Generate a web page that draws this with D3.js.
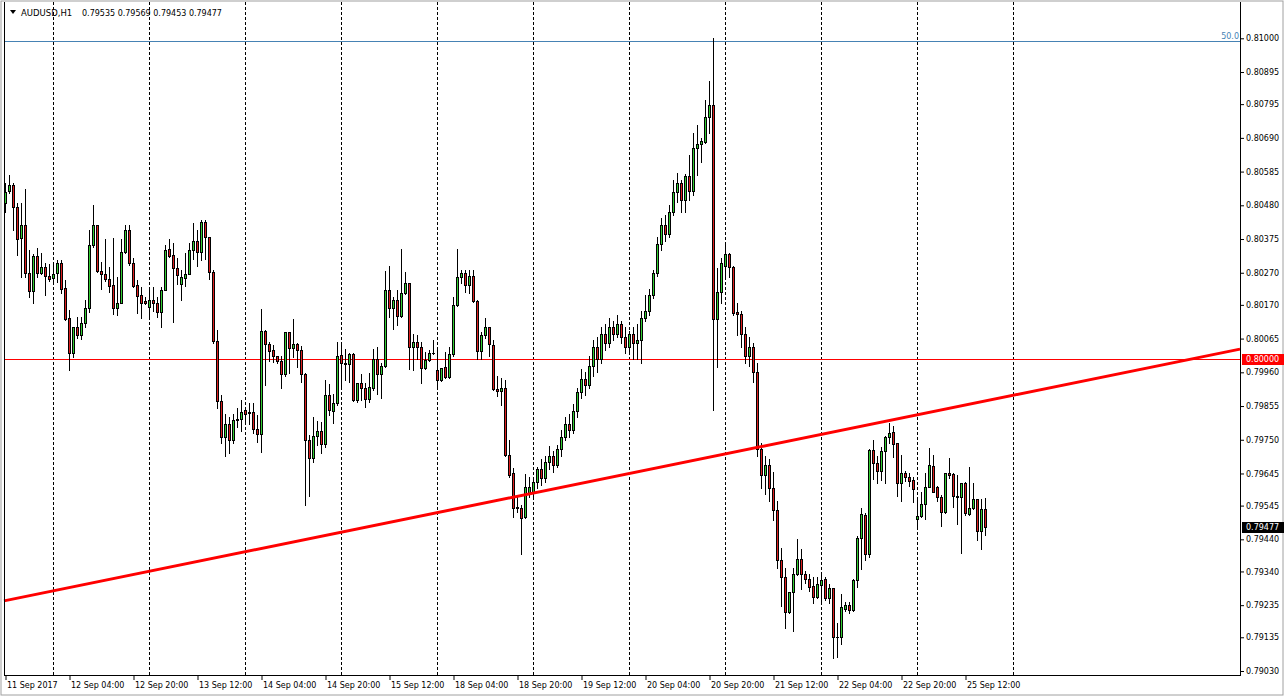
<!DOCTYPE html>
<html><head><meta charset="utf-8">
<script src="https://cdn.jsdelivr.net/npm/d3@7"></script>
<style>html,body{margin:0;padding:0;background:#fff;overflow:hidden}svg{display:block;font-family:"DejaVu Sans",sans-serif}</style>
</head><body><svg id="c" width="1285" height="698"></svg>
<script>
const symbolLabel = "AUDUSD,H1";
const lastBarText = "0.79535 0.79569 0.79453 0.79477";

const open = [
.80488,.80526,.80543,.80474,.80377,.80419,.80270,.80214,.80322,.80270,
.80287,.80259,.80255,.80270,.80299,.80221,.80128,.80021,.80100,.80075,
.80113,.80159,.80356,.80419,.80276,.80265,.80252,.80232,.80159,.80175,
.80336,.80403,.80299,.80232,.80201,.80183,.80162,.80185,.80177,.80149,
.80216,.80343,.80325,.80284,.80235,.80255,.80267,.80341,.80369,.80336,
.80429,.80382,.80273,.80056,.79870,.79760,.79800,.79750,.79810,.79816,
.79842,.79836,.79835,.79785,.79767,.80088,.80047,.80029,.80012,.79996,
.79954,.80084,.80037,.80048,.80031,.79954,.79749,.79692,.79761,.79777,
.79737,.79889,.79840,.79863,.80014,.79988,.79985,.80016,.79874,.79926,
.79910,.79876,.79910,.80003,.79955,.79979,.80216,.80159,.80185,.80135,
.80206,.80237,.80038,.80053,.80038,.79972,.79998,.80019,.79967,.79936,
.79977,.79944,.80016,.80169,.80256,.80270,.80232,.80260,.80182,.80026,
.80075,.80100,.80045,.79907,.79903,.79910,.79702,.79645,.79536,.79536,
.79508,.79585,.79585,.79620,.79660,.79630,.79680,.79700,.79670,.79720,
.79760,.79800,.79780,.79840,.79900,.79940,.79920,.79980,.80040,.80000,
.80080,.80050,.80100,.80080,.80110,.80070,.80040,.80080,.80050,.80060,
.80130,.80150,.80200,.80270,.80360,.80420,.80390,.80460,.80520,.80551,
.80495,.80571,.80523,.80657,.80670,.80678,.80756,.80791,.80125,.80211,
.80291,.80327,.80289,.80148,.80142,.80080,.80010,.80040,.79960,.79720,
.79640,.79670,.79600,.79530,.79376,.79322,.79215,.79276,.79332,.79379,
.79332,.79318,.79295,.79259,.79299,.79315,.79256,.79287,.79137,.79135,
.79222,.79235,.79220,.79313,.79443,.79516,.79393,.79718,.79679,.79654,
.79715,.79758,.79773,.79739,.79614,.79645,.79633,.79625,.79502,.79514,
.79550,.79604,.79668,.79602,.79571,.79526,.79645,.79642,.79575,.79573,
.79614,.79518,.79537,.79566,.79467,.79535];

const high = [
.80550,.80574,.80550,.80486,.80486,.80530,.80341,.80327,.80346,.80330,
.80299,.80297,.80297,.80310,.80310,.80247,.80154,.80100,.80133,.80133,
.80185,.80403,.80481,.80419,.80304,.80374,.80289,.80377,.80257,.80374,
.80419,.80419,.80315,.80247,.80227,.80193,.80218,.80225,.80196,.80225,
.80356,.80374,.80362,.80315,.80279,.80333,.80362,.80426,.80403,.80434,
.80434,.80382,.80279,.80092,.79890,.79830,.79820,.79830,.79850,.79874,
.79853,.79865,.79865,.79827,.80156,.80092,.80055,.80045,.80012,.80011,
.80084,.80084,.80125,.80052,.80042,.79957,.79765,.79822,.79808,.79806,
.79936,.79923,.79894,.80055,.80055,.80034,.80021,.80021,.79928,.79955,
.79926,.79957,.80034,.80038,.79988,.80276,.80291,.80195,.80216,.80343,
.80273,.80237,.80080,.80075,.80053,.80024,.80029,.80060,.80034,.79972,
.80024,.80040,.80195,.80343,.80278,.80278,.80280,.80280,.80185,.80086,
.80128,.80102,.80060,.79947,.79941,.79936,.79749,.79661,.79573,.79547,
.79643,.79635,.79630,.79665,.79690,.79700,.79730,.79715,.79735,.79780,
.79820,.79830,.79860,.79910,.79970,.79960,.80010,.80060,.80070,.80100,
.80110,.80130,.80120,.80140,.80120,.80100,.80090,.80100,.80110,.80150,
.80200,.80220,.80280,.80380,.80440,.80450,.80480,.80560,.80580,.80559,
.80578,.80637,.80704,.80730,.80689,.80808,.80867,.81000,.80284,.80315,
.80360,.80331,.80291,.80175,.80150,.80100,.80070,.80050,.79990,.79740,
.79700,.79690,.79650,.79560,.79412,.79350,.79276,.79350,.79440,.79409,
.79342,.79332,.79324,.79324,.79336,.79322,.79301,.79287,.79180,.79270,
.79246,.79246,.79315,.79450,.79539,.79523,.79720,.79749,.79699,.79728,
.79762,.79803,.79793,.79739,.79703,.79654,.79645,.79633,.79562,.79588,
.79645,.79723,.79703,.79606,.79578,.79648,.79692,.79645,.79640,.79616,
.79617,.79664,.79614,.79566,.79564,.79569];

const low = [
.80460,.80517,.80403,.80325,.80257,.80257,.80196,.80175,.80257,.80267,
.80201,.80245,.80239,.80242,.80208,.80123,.79967,.80007,.80066,.80063,
.80102,.80149,.80349,.80273,.80218,.80245,.80211,.80142,.80139,.80175,
.80333,.80294,.80227,.80144,.80128,.80173,.80133,.80152,.80133,.80102,
.80216,.80320,.80118,.80235,.80185,.80229,.80265,.80312,.80291,.80310,
.80312,.80252,.80052,.79850,.79740,.79700,.79710,.79740,.79790,.79778,
.79799,.79799,.79770,.79744,.79713,.79920,.79996,.79993,.79988,.79910,
.79948,.79957,.80009,.79977,.79931,.79547,.79576,.79682,.79733,.79710,
.79726,.79827,.79803,.79858,.79917,.79936,.79931,.79870,.79869,.79874,
.79853,.79869,.79905,.79894,.79879,.79977,.80133,.80094,.80107,.80131,
.80204,.79969,.79967,.80003,.79926,.79969,.79996,.80017,.79915,.79933,
.79941,.79941,.80011,.80166,.80237,.80211,.80206,.80180,.80003,.80003,
.80068,.80011,.79905,.79886,.79858,.79699,.79635,.79510,.79526,.79395,
.79505,.79573,.79575,.79600,.79610,.79620,.79660,.79650,.79665,.79700,
.79750,.79760,.79770,.79820,.79880,.79890,.79910,.79950,.79960,.79990,
.80030,.80040,.80060,.80070,.80050,.80020,.80020,.80000,.80000,.79990,
.80120,.80140,.80190,.80260,.80340,.80370,.80380,.80450,.80490,.80460,
.80460,.80497,.80512,.80574,.80616,.80675,.80704,.79843,.79978,.80177,
.80258,.80256,.80139,.80076,.80040,.79990,.79980,.79930,.79700,.79600,
.79580,.79560,.79500,.79350,.79232,.79163,.79210,.79156,.79329,.79284,
.79305,.79280,.79241,.79256,.79243,.79251,.79243,.79069,.79073,.79114,
.79218,.79210,.79218,.79293,.79347,.79376,.79384,.79627,.79616,.79625,
.79616,.79739,.79695,.79575,.79560,.79623,.79606,.79557,.79474,.79508,
.79502,.79602,.79588,.79560,.79481,.79523,.79630,.79542,.79488,.79398,
.79516,.79516,.79533,.79438,.79410,.79453];

const close = [
.80522,.80543,.80474,.80374,.80419,.80270,.80214,.80322,.80270,.80287,
.80259,.80252,.80267,.80299,.80218,.80125,.80021,.80100,.80075,.80113,
.80159,.80356,.80419,.80276,.80265,.80252,.80230,.80159,.80175,.80334,
.80403,.80299,.80229,.80198,.80177,.80177,.80185,.80177,.80149,.80216,
.80341,.80323,.80284,.80262,.80257,.80267,.80341,.80369,.80336,.80429,
.80382,.80273,.80056,.79870,.79760,.79800,.79750,.79810,.79816,.79837,
.79829,.79832,.79785,.79767,.80088,.80047,.80027,.80012,.79996,.79954,
.80084,.80037,.80047,.80031,.79954,.79749,.79692,.79761,.79777,.79737,
.79889,.79844,.79863,.80011,.79988,.79985,.80016,.79874,.79926,.79910,
.79876,.79915,.80003,.79955,.79979,.80216,.80159,.80185,.80135,.80206,
.80237,.80038,.80053,.80038,.79972,.79998,.80019,.80021,.79936,.79972,
.79944,.80016,.80169,.80256,.80270,.80232,.80260,.80182,.80026,.80075,
.80100,.80048,.79907,.79903,.79910,.79702,.79640,.79536,.79541,.79505,
.79604,.79604,.79620,.79660,.79630,.79680,.79700,.79670,.79720,.79760,
.79800,.79780,.79840,.79900,.79940,.79920,.79980,.80040,.80000,.80080,
.80050,.80100,.80080,.80110,.80070,.80040,.80080,.80050,.80060,.80130,
.80150,.80200,.80270,.80360,.80420,.80390,.80460,.80520,.80550,.80495,
.80571,.80523,.80657,.80670,.80680,.80756,.80791,.80125,.80211,.80299,
.80327,.80289,.80146,.80142,.80080,.80010,.80040,.79960,.79720,.79640,
.79670,.79600,.79530,.79376,.79322,.79215,.79276,.79332,.79379,.79331,
.79317,.79293,.79259,.79301,.79313,.79256,.79287,.79135,.79135,.79228,
.79235,.79220,.79313,.79443,.79518,.79393,.79718,.79677,.79654,.79715,
.79758,.79770,.79737,.79614,.79645,.79633,.79623,.79596,.79513,.79550,
.79604,.79671,.79588,.79571,.79526,.79645,.79641,.79576,.79573,.79614,
.79521,.79537,.79566,.79467,.79533,.79477];

const priceTicks = [0.81000,0.80895,0.80795,0.80690,0.80585,0.80480,0.80375,0.80270,0.80170,0.80065,
  0.79960,0.79855,0.79750,0.79645,0.79545,0.79440,0.79340,0.79235,0.79135,0.79030];
const timeTickIndex = [0,16,32,48,64,80,96,112,128,144,160,176,192,208,224,240];
const timeTickLabels = ["11 Sep 2017","12 Sep 04:00","12 Sep 20:00","13 Sep 12:00","14 Sep 04:00",
  "14 Sep 20:00","15 Sep 12:00","18 Sep 04:00","18 Sep 20:00","19 Sep 12:00","20 Sep 04:00",
  "20 Sep 20:00","21 Sep 12:00","22 Sep 04:00","22 Sep 20:00","25 Sep 12:00"];
const daySeparatorIndex = [12,36,60,84,108,132,156,180,204,228,252];
const trendAnchors = [{i:0, p:0.79249},{i:300, p:0.80010}];
const horizontalLevel = 0.80000;
const fibLevel = {label:"50.0", price:0.80992};
const currentPrice = 0.79477;

// layout
const W = 1285, H = 698;
const L = 4, R = 1240, T = 2, B = 675;
const svg = d3.select("#c");
svg.append("rect").attr("width",W).attr("height",H).attr("fill","#fff");

const x = d3.scaleLinear().domain([0, 308.75]).range([5, 1240]);
const y = d3.scaleLinear().domain([0.7903, 0.81]).range([671, 38.3]);

// window border
svg.append("rect").attr("x",1).attr("y",1).attr("width",1282).attr("height",694)
  .attr("fill","none").attr("stroke","#a0a0a0").attr("stroke-width",1);

// day separators
svg.append("g").selectAll("line").data(daySeparatorIndex).join("line")
  .attr("x1",d=>Math.round(x(d))+0.5).attr("x2",d=>Math.round(x(d))+0.5)
  .attr("y1",T).attr("y2",B)
  .attr("stroke","#000").attr("stroke-width",1).attr("stroke-dasharray","3,2");

// fib 50 line
const fy = Math.round(y(fibLevel.price))+0.5;
svg.append("line").attr("x1",L).attr("x2",R).attr("y1",fy).attr("y2",fy)
  .attr("stroke","#4682b4").attr("stroke-width",1);
svg.append("text").attr("x",R-1).attr("y",fy-3).attr("text-anchor","end")
  .attr("font-size",8).attr("fill","#4682b4").text(fibLevel.label);

// horizontal level
const hy = Math.round(y(horizontalLevel))+0.5;
svg.append("line").attr("x1",L).attr("x2",R).attr("y1",hy).attr("y2",hy)
  .attr("stroke","#ff0000").attr("stroke-width",1);

// candles
const bars = d3.range(open.length).map(i=>({i,o:open[i],h:high[i],l:low[i],c:close[i]}));
const cg = svg.append("g");
bars.forEach(d=>{
  const cx = Math.round(x(d.i));
  const yh = Math.round(y(d.h)), yl = Math.round(y(d.l));
  const top = Math.round(y(Math.max(d.o,d.c))), bot = Math.round(y(Math.min(d.o,d.c)));
  cg.append("rect").attr("x",cx).attr("y",yh).attr("width",1).attr("height",Math.max(1,yl-yh+1)).attr("fill","#000");
  cg.append("rect").attr("x",cx-1).attr("y",top).attr("width",3).attr("height",Math.max(1,bot-top+1)).attr("fill","#000");
  if (bot-top-1 > 0) {
    cg.append("rect").attr("x",cx).attr("y",top+1).attr("width",1).attr("height",bot-top-1)
      .attr("fill", d.c >= d.o ? "#32cd32" : "#dc1e1e");
  }
});

// trend line (ray through two anchors, clipped to plot)
const slope = (trendAnchors[1].p - trendAnchors[0].p)/(trendAnchors[1].i - trendAnchors[0].i);
const iL = x.invert(L), iR = x.invert(R);
const pAt = i => trendAnchors[0].p + slope*(i - trendAnchors[0].i);
svg.append("line").attr("x1",L).attr("y1",y(pAt(iL))).attr("x2",R).attr("y2",y(pAt(iR)))
  .attr("stroke","#ff0000").attr("stroke-width",3);

// plot frame
svg.append("line").attr("x1",L+0.5).attr("x2",L+0.5).attr("y1",T).attr("y2",B+1).attr("stroke","#000");
svg.append("line").attr("x1",R+0.5).attr("x2",R+0.5).attr("y1",T).attr("y2",B+1).attr("stroke","#000");
svg.append("line").attr("x1",L).attr("x2",R+1).attr("y1",B+0.5).attr("y2",B+0.5).attr("stroke","#000");

// right price axis
const ya = svg.append("g").attr("transform",`translate(${R+1},0)`)
  .call(d3.axisRight(y).tickValues(priceTicks).tickFormat(d3.format(".5f")).tickSize(3).tickSizeOuter(0).tickPadding(2));
ya.select(".domain").remove();
ya.selectAll("text").attr("font-size",8).attr("font-family","DejaVu Sans").attr("fill","#000");
ya.selectAll("line").attr("stroke","#000");

// time axis
const xa = svg.append("g").attr("transform",`translate(0.5,${B+1})`)
  .call(d3.axisBottom(x).tickValues(timeTickIndex).tickFormat((d,k)=>timeTickLabels[k]).tickSize(4).tickSizeOuter(0).tickPadding(2));
xa.select(".domain").remove();
xa.selectAll("text").attr("text-anchor","start").attr("dx",1).attr("font-size",8)
  .attr("font-family","DejaVu Sans").attr("fill","#000");
xa.selectAll("line").attr("stroke","#000");

// price label boxes
function priceBox(p, bg){
  const yy = Math.round(y(p));
  svg.append("rect").attr("x",R+2).attr("y",yy-5).attr("width",42).attr("height",11).attr("fill",bg);
  svg.append("text").attr("x",R+6).attr("y",yy+3).attr("font-size",8).attr("fill","#fff").text(d3.format(".5f")(p));
}
priceBox(horizontalLevel, "#ff0000");
priceBox(currentPrice, "#000");

// header
svg.append("path").attr("d","M10,10 L16,10 L13,14 Z").attr("fill","#000");
svg.append("text").attr("x",21).attr("y",16).attr("font-size",8.5).attr("fill","#000").text(symbolLabel);
svg.append("text").attr("x",82).attr("y",16).attr("font-size",8).attr("fill","#000").text(lastBarText);
</script></body></html>
